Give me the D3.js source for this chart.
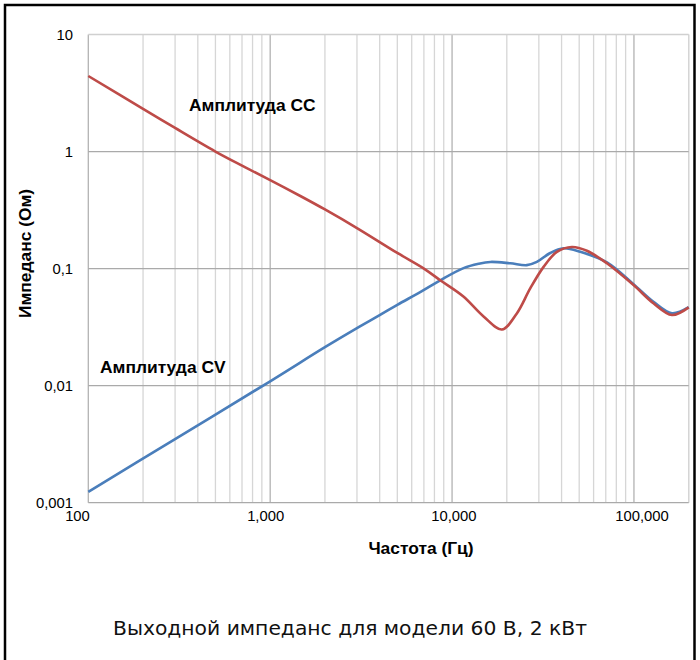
<!DOCTYPE html>
<html><head><meta charset="utf-8">
<script src="https://cdn.jsdelivr.net/npm/d3@7"></script>
<style>body{margin:0;background:#fff} svg{display:block}</style>
</head><body><svg id="c" width="700" height="660"></svg>
<script>
// ---- data ----
const freqCC = [100, 200, 300, 500, 700, 1000, 1500, 2000, 3000, 5000, 7000, 8610, 11500, 14900, 18800, 22700, 26900, 31850, 37700, 45600, 55100, 71000, 99500, 128000, 161700, 200000];
const ampCC  = [4.42, 2.32, 1.59, 1.0, 0.758, 0.570, 0.409, 0.320, 0.222, 0.136, 0.100, 0.0795, 0.058, 0.039, 0.0302, 0.0414, 0.0677, 0.1035, 0.139, 0.153, 0.142, 0.111, 0.0723, 0.0505, 0.0401, 0.0466];
const freqCV = [100, 300, 1000, 2000, 3000, 4000, 5000, 6680, 8610, 11560, 14000, 16260, 20900, 25770, 29250, 34650, 41050, 50700, 71000, 99500, 128000, 161700, 200000];
const ampCV  = [0.00124, 0.0035, 0.0109, 0.0213, 0.031, 0.040, 0.049, 0.063, 0.0795, 0.101, 0.110, 0.114, 0.111, 0.107, 0.114, 0.136, 0.149, 0.139, 0.113, 0.0735, 0.052, 0.0415, 0.0468];
const xTickValues = [100, 1000, 10000, 100000];
const xTickLabels = ["100", "1,000", "10,000", "100,000"];
const yTickValues = [10, 1, 0.1, 0.01, 0.001];
const yTickLabels = ["10", "1", "0,1", "0,01", "0,001"];
const seriesNames = ["Амплитуда CC", "Амплитуда CV"];
const xTitle = "Частота (Гц)";
const yTitle = "Импеданс (Ом)";
const chartTitle = "Выходной импеданс для модели 60 В, 2 кВт";

// ---- layout ----
const svg = d3.select("#c");
const L = 88.3, R = 688.7, T = 34.5, B = 502.7;
const x = d3.scaleLog().domain([100, 200000]).range([L, R]);
const y = d3.scaleLog().domain([0.001, 10]).range([B, T]);
const xLabelPos = d3.scaleLog().domain([100, 100000]).range([77.5, 642]);

// frame
svg.append("rect").attr("x", 5).attr("y", 5).attr("width", 689.5).attr("height", 720)
  .attr("fill", "none").attr("stroke", "#000").attr("stroke-width", 2.5);

// vertical grid
const vlines = [];
for (let d = 100; d <= 100000; d *= 10) {
  for (let m = 1; m <= 9; m++) { const v = d * m; if (v <= 200000) vlines.push({v, major: m === 1}); }
}
vlines.push({v: 200000, major: false});
svg.append("g").selectAll("line").data(vlines).join("line")
  .attr("x1", d => x(d.v)).attr("x2", d => x(d.v)).attr("y1", T).attr("y2", B)
  .attr("stroke", d => d.major ? "#b3b3b3" : "#d6d6d6").attr("stroke-width", 1.3);

// horizontal grid
svg.append("g").selectAll("line").data(yTickValues).join("line")
  .attr("x1", L).attr("x2", R).attr("y1", d => y(d)).attr("y2", d => y(d))
  .attr("stroke", d => d === 10 ? "#d0d0d0" : "#aaaaaa").attr("stroke-width", 1.3);

// tick labels
const tickFont = "'Liberation Sans', Arial, sans-serif";
svg.append("g").selectAll("text").data(yTickValues).join("text")
  .attr("x", 73).attr("y", d => y(d)).attr("dy", "0.36em").attr("text-anchor", "end")
  .attr("font-family", tickFont).attr("font-size", 14.8).attr("fill", "#000")
  .text((d, i) => yTickLabels[i]);
svg.append("g").selectAll("text").data(xTickValues).join("text")
  .attr("x", d => xLabelPos(d)).attr("y", 521).attr("text-anchor", "middle")
  .attr("font-family", tickFont).attr("font-size", 14.8).attr("fill", "#000")
  .text((d, i) => xTickLabels[i]);

// curves
const line = d3.line().x(d => x(d[0])).y(d => y(d[1])).curve(d3.curveCatmullRom.alpha(0.5));
svg.append("path").datum(freqCV.map((f, i) => [f, ampCV[i]]))
  .attr("d", line).attr("fill", "none").attr("stroke", "#4a7ebb").attr("stroke-width", 2.6);
svg.append("path").datum(freqCC.map((f, i) => [f, ampCC[i]]))
  .attr("d", line).attr("fill", "none").attr("stroke", "#be4b48").attr("stroke-width", 2.6);

// annotations
svg.append("text").attr("x", 189).attr("y", 111).attr("font-family", tickFont)
  .attr("font-weight", "bold").attr("font-size", 17.4).text(seriesNames[0]);
svg.append("text").attr("x", 100).attr("y", 373).attr("font-family", tickFont)
  .attr("font-weight", "bold").attr("font-size", 17.4).text(seriesNames[1]);

// axis titles
svg.append("text").attr("x", 421).attr("y", 554).attr("text-anchor", "middle")
  .attr("font-family", tickFont).attr("font-weight", "bold").attr("font-size", 17.4).text(xTitle);
svg.append("text").attr("transform", "translate(31,253.5) rotate(-90)").attr("text-anchor", "middle")
  .attr("font-family", tickFont).attr("font-weight", "bold").attr("font-size", 17.4).text(yTitle);

// chart title
svg.append("text").attr("x", 350).attr("y", 635).attr("text-anchor", "middle")
  .attr("font-family", "'DejaVu Sans', Verdana, sans-serif").attr("font-size", 20.3).attr("fill", "#111")
  .text(chartTitle);
</script>
</body></html>
